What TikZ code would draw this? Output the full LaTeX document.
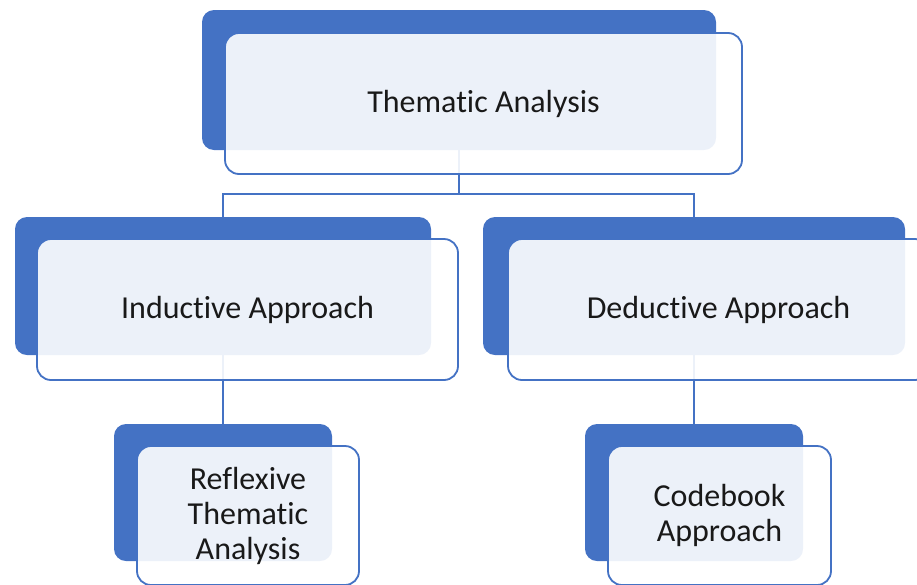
\documentclass[tikz,border=0pt]{standalone}
\usepackage{fontspec}
\setmainfont{Carlito}[Ligatures={NoCommon}]
\definecolor{accent}{HTML}{4472C4}
\begin{document}
\begin{tikzpicture}[x=1pt,y=1pt,
  backbox/.style={rectangle, rounded corners=12pt, fill=accent, inner sep=0pt, outer sep=0pt},
  frontbox/.style={rectangle, rounded corners=14pt, draw=accent, line width=1.8pt, fill=white, fill opacity=0.9, text opacity=1, inner sep=0pt, outer sep=0pt, font=\fontsize{32}{35}\selectfont, align=center, text=black!90},
  conn/.style={draw=accent, line width=2pt}]
\useasboundingbox (0,0) rectangle (917,-584);
% back boxes
\node[backbox, minimum width=514pt, minimum height=140pt] (tb) at (459,-80) {};
\node[backbox, minimum width=416pt, minimum height=138pt] (lb) at (223,-286) {};
\node[backbox, minimum width=422pt, minimum height=138pt] (rb) at (694,-286) {};
\node[backbox, minimum width=218pt, minimum height=137pt] (lbb) at (223,-492.5) {};
\node[backbox, minimum width=218pt, minimum height=137pt] (rbb) at (694,-492.5) {};
% connectors
\coordinate (hub) at ([yshift=-44pt]tb.south);
\draw[conn] (tb.south) -- (hub);
\draw[conn] ([xshift=-1pt]hub -| lb.north) -- ([xshift=1pt]hub -| rb.north);
\draw[conn] (hub -| lb.north) -- (lb.north);
\draw[conn] (hub -| rb.north) -- (rb.north);
\draw[conn] (lb.south) -- (lbb.north);
\draw[conn] (rb.south) -- (rbb.north);
% front boxes
\node[frontbox, minimum width=517pt, minimum height=141pt] (tf) at (483.5,-103.5) {\raisebox{-2pt}{Thematic Analysis}};
\node[frontbox, minimum width=421pt, minimum height=141pt] (lf) at (247.5,-309.5) {\raisebox{-2pt}{Inductive Approach}};
\node[frontbox, minimum width=421pt, minimum height=141pt] (rf) at (718.5,-309.5) {\raisebox{-2pt}{Deductive Approach}};
\node[frontbox, minimum width=222pt, minimum height=139pt] (lbf) at (248,-515.5) {Reflexive\\Thematic\\Analysis};
\node[frontbox, minimum width=223pt, minimum height=139pt] (rbf) at (719.5,-515.5) {Codebook\\Approach};
\end{tikzpicture}
\end{document}
